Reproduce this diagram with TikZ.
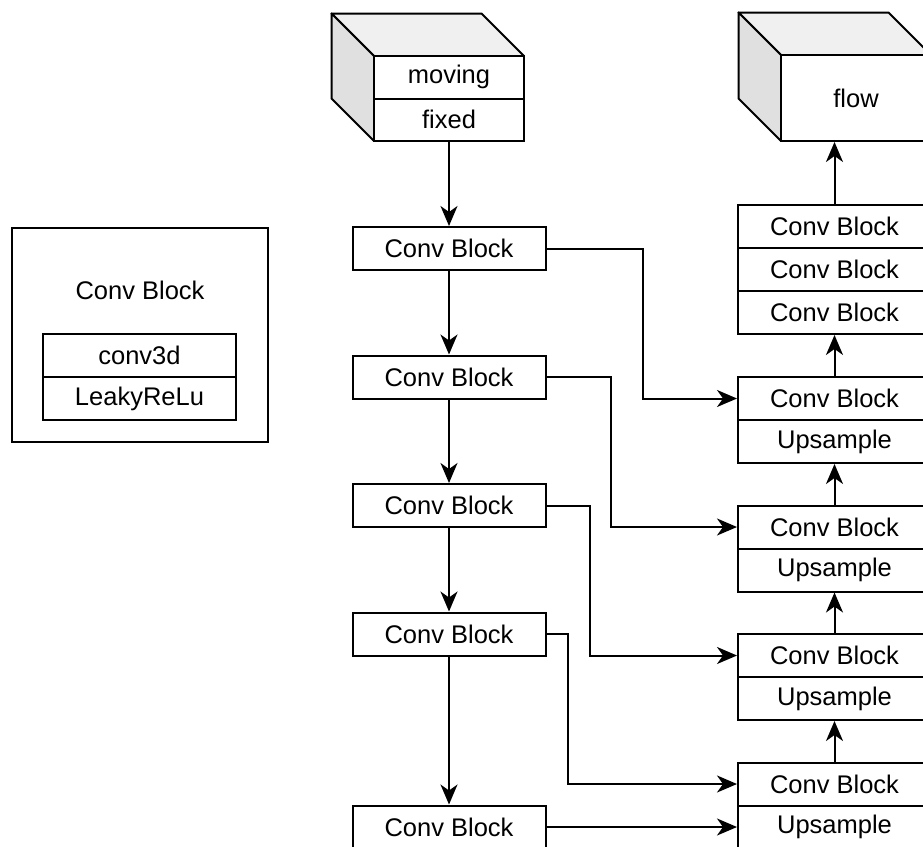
\documentclass[tikz,border=0pt]{standalone}
\usepackage{fontspec}
\setmainfont{Liberation Sans}
\usetikzlibrary{arrows.meta}
\begin{document}
\begin{tikzpicture}[x=1pt,y=-1pt,
  line width=2pt,
  font=\fontsize{25.5}{30}\selectfont,
  box/.style={draw=black,fill=white,rectangle,minimum width=193pt,minimum height=43pt,inner sep=0pt},
  facebox/.style={draw=black,fill=white,rectangle,minimum width=150pt,inner sep=0pt},
  topface/.style={draw=black,fill=black!6,line join=round},
  sideface/.style={draw=black,fill=black!12,line join=round},
  arr/.style={-{Stealth[length=20pt,width=17pt,inset=6pt]}}]
\useasboundingbox (0,0) rectangle (923,846);
\clip (0,0) rectangle (923,846);

% legend: contents of a conv block
\node[draw=black,rectangle,minimum width=256pt,minimum height=214pt,inner sep=0pt] (legend) at (140,334.5) {};
\node (legtitle) at (140,290) {Conv Block};
\node[box] (lconv) at (139.5,355) {conv3d};
\node[box] (lrelu) at (139.5,398.5) {LeakyReLu};

% input volume: moving / fixed
\fill[white] (374,56) rectangle (524,141);
\draw[topface] (374,56) -- (331.5,13.5) -- (481.5,13.5) -- (524,56) -- cycle;
\draw[sideface] (374,56) -- (331.5,13.5) -- (331.5,98.5) -- (374,141) -- cycle;
\node[facebox,minimum height=42.5pt] (moving) at (449,77.25) {moving};
\node[facebox,minimum height=42.5pt] (fixed) at (449,119.75) {fixed};

% output volume: flow
\draw[topface] (781,55) -- (738.5,12.5) -- (888.5,12.5) -- (931,55) -- cycle;
\draw[sideface] (781,55) -- (738.5,12.5) -- (738.5,98.5) -- (781,141) -- cycle;
\node[facebox,minimum height=86pt] (flow) at (856,98) {flow};

% encoder
\node[box] (e1) at (449,248.5) {Conv Block};
\node[box] (e2) at (449,377) {Conv Block};
\node[box] (e3) at (449,505.5) {Conv Block};
\node[box] (e4) at (449,634) {Conv Block};
\node[box] (e5) at (449,827) {Conv Block};

% decoder
\node[box] (t1) at (834.5,226.5) {Conv Block};
\node[box] (t2) at (834.5,269.5) {Conv Block};
\node[box] (t3) at (834.5,312.5) {Conv Block};
\node[box] (c1) at (834.5,398.5) {Conv Block};
\node[box] (u1) at (834.5,441.5) {Upsample};
\node[box] (c2) at (834.5,527) {Conv Block};
\node[box] (u2) at (834.5,570) {Upsample};
\node[box] (c3) at (834.5,655.5) {Conv Block};
\node[box] (u3) at (834.5,698.5) {Upsample};
\node[box] (c4) at (834.5,784) {Conv Block};
\node[box] (u4) at (834.5,827) {Upsample};

% downward path
\draw[arr] (fixed.south) -- (e1.north);
\draw[arr] (e1.south) -- (e2.north);
\draw[arr] (e2.south) -- (e3.north);
\draw[arr] (e3.south) -- (e4.north);
\draw[arr] (e4.south) -- (e5.north);

% upward path
\draw[arr] (c1.north) -- (t3.south);
\draw[arr] (c2.north) -- (u1.south);
\draw[arr] (c3.north) -- (u2.south);
\draw[arr] (c4.north) -- (u3.south);
\draw[arr] (t1.north) -- (flow.south -| t1.north);

% skip connections
\draw[arr] (e1.east) -- ++(96.5,0) |- (c1.west);
\draw[arr] (e2.east) -- ++(64.5,0) |- (c2.west);
\draw[arr] (e3.east) -- ++(43.5,0) |- (c3.west);
\draw[arr] (e4.east) -- ++(21.5,0) |- (c4.west);
\draw[arr] (e5.east) -- (u4.west);
\end{tikzpicture}
\end{document}
